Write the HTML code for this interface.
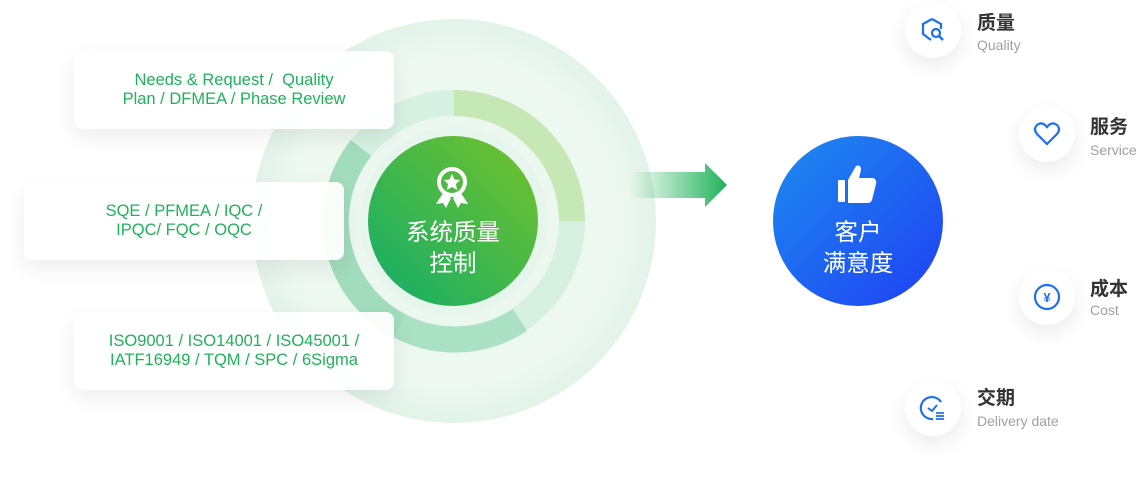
<!DOCTYPE html>
<html><head><meta charset="utf-8"><style>
body{margin:0;width:1137px;height:479px;background:#fff;position:relative;overflow:hidden;font-family:"Liberation Sans","Noto Sans CJK SC",sans-serif}
.a{position:absolute}
.box{position:absolute;width:320px;height:78px;background:rgba(255,255,255,.92);border-radius:8px;box-shadow:0 8px 22px rgba(0,0,0,.07);color:#1fb25a;font-size:16.5px;line-height:19px;text-align:center;display:flex;align-items:center;justify-content:center}
.ic{position:absolute;width:56px;height:56px;border-radius:50%;background:#fff;box-shadow:0 8px 20px rgba(0,0,0,.08);display:flex;align-items:center;justify-content:center}
.t{position:absolute;font-size:19px;font-weight:bold;color:#333;line-height:24px}
.s{position:absolute;font-size:14px;color:#a0a0a0;line-height:16px}
</style></head><body>
<svg class="a" style="left:0;top:0" width="1137" height="479">
<defs>
<radialGradient id="bg" cx="0.5" cy="0.5" r="0.5"><stop offset="0" stop-color="#e8f6ee"/><stop offset="0.8" stop-color="#eef8f1"/><stop offset="1" stop-color="#e2f3e8"/></radialGradient>
<linearGradient id="g" x1="0" y1="1" x2="1" y2="0"><stop offset="0" stop-color="#12ad6a"/><stop offset="1" stop-color="#75c22a"/></linearGradient>
<linearGradient id="b" x1="0" y1="0" x2="1" y2="1"><stop offset="0" stop-color="#1e8cf0"/><stop offset="1" stop-color="#1f3ff2"/></linearGradient>
<linearGradient id="ar" x1="0" y1="0" x2="1" y2="0"><stop offset="0" stop-color="#1fb25a" stop-opacity="0"/><stop offset="1" stop-color="#1fb25a"/></linearGradient>
</defs>
<circle cx="454" cy="221" r="202" fill="url(#bg)"/>
<circle cx="454" cy="221" r="118" fill="none" stroke="#d6f0e2" stroke-width="26"/>
<path d="M454 103 A118 118 0 0 1 572 221" fill="none" stroke="#c6e8b4" stroke-width="26"/>
<path d="M361 148 A118 118 0 0 0 400 326" fill="none" stroke="#93d7b3" stroke-width="26" opacity=".8"/>
<path d="M400 326 A118 118 0 0 0 520 320" fill="none" stroke="#9fdcbd" stroke-width="26" opacity=".8"/>
<circle cx="454" cy="221" r="94" fill="#e6f6ed"/>
<circle cx="453" cy="221" r="85" fill="url(#g)"/>
<path d="M630 172 L705 172 L705 163 L727 185 L705 207 L705 198 L630 198 Z" fill="url(#ar)"/>
<circle cx="858" cy="221" r="85" fill="url(#b)"/>
<circle cx="452" cy="182" r="13" fill="none" stroke="#fff" stroke-width="4"/>
<polygon points="452,174 454.5,179.5 460,180 456,184 457,190 452,187 447,190 448,184 444,180 449.5,179.5" fill="#fff"/>
<path d="M443 193 L436 204 L443 203 L446 208 L451 198 Z M461 193 L468 204 L461 203 L458 208 L453 198 Z" fill="#fff"/>
<rect x="838" y="180" width="7" height="22" rx="1" fill="#fff"/>
<path d="M848 180 L856 166 Q861 164 861 170 L859 178 L873 178 Q877 179 876 184 L872 200 Q871 203 867 203 L848 203 Z" fill="#fff"/>
</svg>
<div class="a" style="left:358px;top:217px;width:190px;text-align:center;color:#fff;font-size:23.5px;line-height:31px">系统质量<br>控制</div>
<div class="a" style="left:763px;top:217px;width:190px;text-align:center;color:#fff;font-size:23.5px;line-height:31px">客户<br>满意度</div>
<div class="box" style="left:74px;top:51px">Needs &amp; Request /&nbsp; Quality<br>Plan / DFMEA / Phase Review</div>
<div class="box" style="left:24px;top:182px">SQE / PFMEA / IQC /<br>IPQC/ FQC / OQC</div>
<div class="box" style="left:74px;top:312px">ISO9001 / ISO14001 / ISO45001 /<br>IATF16949 / TQM / SPC / 6Sigma</div>
<div class="ic" style="left:905px;top:2px"><svg width="26" height="26" viewBox="0 0 26 26"><path d="M12 2 L21 7 L21 12 M12 2 L3 7 L3 17 L11 23" fill="none" stroke="#1e6ff0" stroke-width="2.2"/><circle cx="16" cy="16" r="4" fill="none" stroke="#1e6ff0" stroke-width="2.2"/><path d="M19 19 L23 23" stroke="#1e6ff0" stroke-width="2.4"/></svg></div>
<div class="t" style="left:977px;top:12px">质量</div><div class="s" style="left:977px;top:37px">Quality</div>
<div class="ic" style="left:1019px;top:106px"><svg width="28" height="26" viewBox="0 0 28 26"><path d="M14 23 L4 13 Q0 8 4 4 Q9 0 14 6 Q19 0 24 4 Q28 8 24 13 Z" fill="none" stroke="#1e6ff0" stroke-width="2.2"/></svg></div>
<div class="t" style="left:1090px;top:116px">服务</div><div class="s" style="left:1090px;top:142px">Service</div>
<div class="ic" style="left:1019px;top:269px"><svg width="28" height="28" viewBox="0 0 28 28"><circle cx="14" cy="14" r="12" fill="none" stroke="#1e6ff0" stroke-width="2.2"/><text x="14" y="19" font-size="13" font-weight="bold" fill="#1e6ff0" text-anchor="middle" font-family="Liberation Sans">¥</text></svg></div>
<div class="t" style="left:1090px;top:278px">成本</div><div class="s" style="left:1090px;top:302px">Cost</div>
<div class="ic" style="left:905px;top:380px"><svg width="28" height="28" viewBox="0 0 28 28"><path d="M22 8 A11 11 0 1 0 14 25" fill="none" stroke="#1e6ff0" stroke-width="2.2"/><path d="M9 14 L13 17 L18 11" fill="none" stroke="#1e6ff0" stroke-width="2"/><path d="M17 19h8M17 22h8M17 25h8" stroke="#1e6ff0" stroke-width="1.8"/></svg></div>
<div class="t" style="left:977px;top:387px">交期</div><div class="s" style="left:977px;top:413px">Delivery date</div>
</body></html>
